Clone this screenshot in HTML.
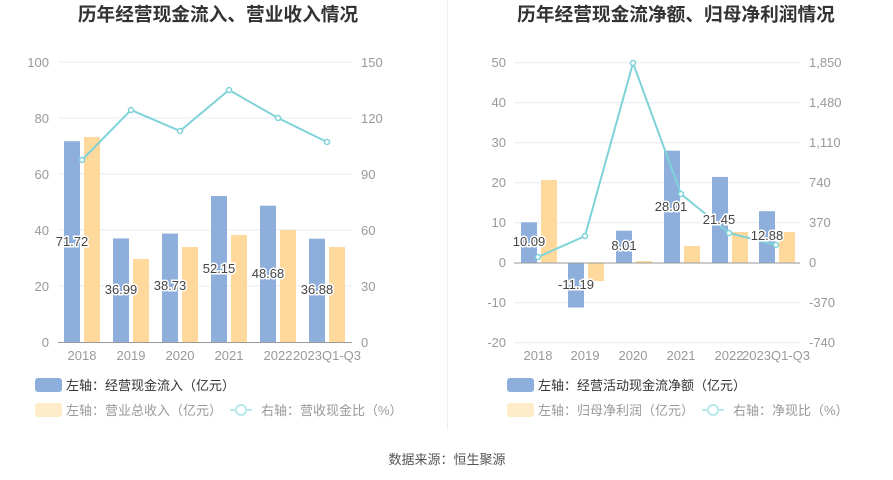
<!DOCTYPE html>
<html><head><meta charset="utf-8"><style>
body{margin:0;background:#fff;}
svg{display:block;font-family:"Liberation Sans","Noto Sans CJK SC",sans-serif;}
</style></head><body>
<svg width="893" height="480" viewBox="0 0 893 480">
<line x1="447.5" y1="0" x2="447.5" y2="430" stroke="#eee"/>
<text x="218" y="21" text-anchor="middle" font-size="18.7" font-weight="bold" fill="#333">历年经营现金流入、营业收入情况</text>
<text x="676" y="21" text-anchor="middle" font-size="18.7" font-weight="bold" fill="#333">历年经营现金流净额、归母净利润情况</text>
<g stroke="#e6ebf5" stroke-width="1">
<line x1="58" x2="352" y1="62" y2="62"/><line x1="58" x2="352" y1="118" y2="118"/><line x1="58" x2="352" y1="174" y2="174"/><line x1="58" x2="352" y1="230" y2="230"/><line x1="58" x2="352" y1="286" y2="286"/>
<line x1="514" x2="800" y1="62.7" y2="62.7"/><line x1="514" x2="800" y1="102.7" y2="102.7"/><line x1="514" x2="800" y1="142.7" y2="142.7"/><line x1="514" x2="800" y1="182.7" y2="182.7"/><line x1="514" x2="800" y1="222.7" y2="222.7"/><line x1="514" x2="800" y1="302.7" y2="302.7"/><line x1="514" x2="800" y1="342.7" y2="342.7"/>
</g>
<g font-size="13" fill="#999">
<g text-anchor="end"><text x="49" y="67">100</text><text x="49" y="123">80</text><text x="49" y="179">60</text><text x="49" y="235">40</text><text x="49" y="291">20</text><text x="49" y="347">0</text>
<text x="506" y="67">50</text><text x="506" y="107">40</text><text x="506" y="147">30</text><text x="506" y="187">20</text><text x="506" y="227">10</text><text x="506" y="267">0</text><text x="506" y="307">-10</text><text x="506" y="347">-20</text></g>
<text x="361" y="67">150</text><text x="361" y="123">120</text><text x="361" y="179">90</text><text x="361" y="235">60</text><text x="361" y="291">30</text><text x="361" y="347">0</text>
<text x="809" y="67">1,850</text><text x="809" y="107">1,480</text><text x="809" y="147">1,110</text><text x="809" y="187">740</text><text x="809" y="227">370</text><text x="809" y="267">0</text><text x="809" y="307">-370</text><text x="809" y="347">-740</text>
<g text-anchor="middle"><text x="82" y="360">2018</text><text x="131" y="360">2019</text><text x="180" y="360">2020</text><text x="229" y="360">2021</text><text x="278" y="360">2022</text><text x="327" y="360">2023Q1-Q3</text>
<text x="538" y="360">2018</text><text x="585" y="360">2019</text><text x="633" y="360">2020</text><text x="681" y="360">2021</text><text x="729" y="360">2022</text><text x="776" y="360">2023Q1-Q3</text></g>
</g>
<g fill="#8eafdc">
<rect x="64" y="141.2" width="16" height="200.8"/><rect x="113" y="238.4" width="16" height="103.6"/><rect x="162" y="233.6" width="16" height="108.4"/><rect x="211" y="196" width="16" height="146"/><rect x="260" y="205.7" width="16" height="136.3"/><rect x="309" y="238.7" width="16" height="103.3"/>
</g>
<g fill="#ffd99c">
<rect x="84" y="137" width="16" height="205"/><rect x="133" y="259" width="16" height="83"/><rect x="182" y="247" width="16" height="95"/><rect x="231" y="235" width="16" height="107"/><rect x="280" y="230" width="16" height="112"/><rect x="329" y="247" width="16" height="95"/>
</g>
<line x1="58" x2="352" y1="342.5" y2="342.5" stroke="#999"/>
<g fill="#8eafdc">
<rect x="521" y="222.3" width="16" height="40.4"/><rect x="568" y="262.7" width="16" height="44.8"/><rect x="616" y="230.7" width="16" height="32"/><rect x="664" y="150.7" width="16" height="112"/><rect x="712" y="176.9" width="16" height="85.8"/><rect x="759" y="211.2" width="16" height="51.5"/>
</g>
<g fill="#ffd99c">
<rect x="541" y="180" width="16" height="82.7"/><rect x="588" y="262.7" width="16" height="18.3"/><rect x="636" y="261" width="16" height="1.7"/><rect x="684" y="246" width="16" height="16.7"/><rect x="732" y="232" width="16" height="30.7"/><rect x="779" y="232" width="16" height="30.7"/>
</g>
<line x1="514" x2="800" y1="263" y2="263" stroke="#999"/>
<polyline points="82,160 131,110 180,131 229,90 278,118 327,142" fill="none" stroke="#7fd3d8" stroke-width="2"/>
<g fill="#fff" stroke="#7fd3d8" stroke-width="1.5"><circle cx="82" cy="160" r="2.5"/><circle cx="131" cy="110" r="2.5"/><circle cx="180" cy="131" r="2.5"/><circle cx="229" cy="90" r="2.5"/><circle cx="278" cy="118" r="2.5"/><circle cx="327" cy="142" r="2.5"/></g>
<polyline points="538,257 585,236 633,63 681,194 729,233 776,245" fill="none" stroke="#7fd3d8" stroke-width="2"/>
<g fill="#fff" stroke="#7fd3d8" stroke-width="1.5"><circle cx="538" cy="257" r="2.5"/><circle cx="585" cy="236" r="2.5"/><circle cx="633" cy="63" r="2.5"/><circle cx="681" cy="194" r="2.5"/><circle cx="729" cy="233" r="2.5"/><circle cx="776" cy="245" r="2.5"/></g>
<g font-size="13" fill="#444" stroke="#fff" stroke-width="3" paint-order="stroke" text-anchor="middle">
<text x="72" y="246">71.72</text><text x="121" y="294">36.99</text><text x="170" y="290">38.73</text><text x="219" y="273">52.15</text><text x="268" y="278">48.68</text><text x="317" y="294">36.88</text>
<text x="529" y="246">10.09</text><text x="576" y="289">-11.19</text><text x="624" y="250">8.01</text><text x="671" y="211">28.01</text><text x="719" y="224">21.45</text><text x="767" y="240">12.88</text>
</g>
<g font-size="13">
<rect x="35" y="378" width="27" height="14" rx="3" fill="#8eafdc"/><text x="66" y="390" fill="#333">左轴：经营现金流入（亿元）</text>
<rect x="35" y="403" width="27" height="14" rx="3" fill="#ffecc9"/><text x="66" y="415" fill="#999">左轴：营业总收入（亿元）</text>
<line x1="230" x2="252" y1="410" y2="410" stroke="#b7e8eb" stroke-width="2"/><circle cx="241" cy="410" r="5" fill="#fff" stroke="#b7e8eb" stroke-width="2"/><text x="261" y="415" fill="#999">右轴：营收现金比（%）</text>
<rect x="507" y="378" width="27" height="14" rx="3" fill="#8eafdc"/><text x="538" y="390" fill="#333">左轴：经营活动现金流净额（亿元）</text>
<rect x="507" y="403" width="27" height="14" rx="3" fill="#ffecc9"/><text x="538" y="415" fill="#999">左轴：归母净利润（亿元）</text>
<line x1="702" x2="724" y1="410" y2="410" stroke="#b7e8eb" stroke-width="2"/><circle cx="713" cy="410" r="5" fill="#fff" stroke="#b7e8eb" stroke-width="2"/><text x="733" y="415" fill="#999">右轴：净现比（%）</text>
<text x="447" y="464" text-anchor="middle" fill="#555">数据来源：恒生聚源</text>
</g>
</svg>
</body></html>
